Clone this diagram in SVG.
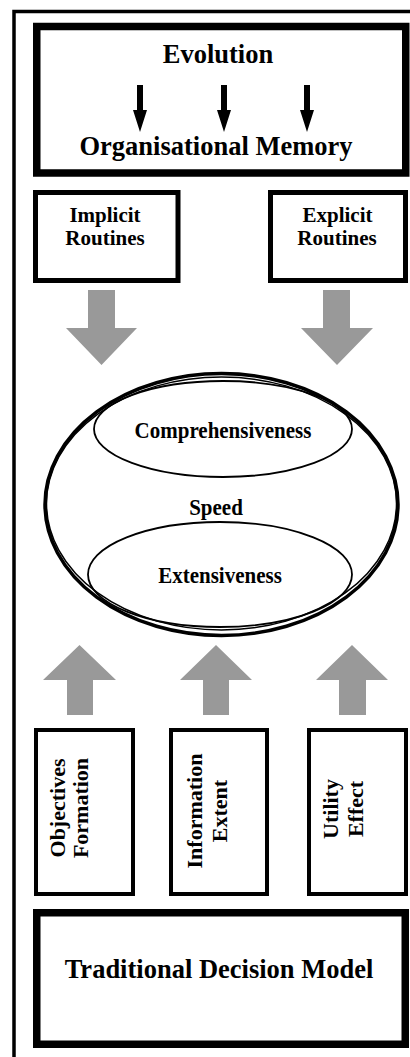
<svg xmlns="http://www.w3.org/2000/svg" width="410" height="1057" viewBox="0 0 410 1057">
<style>
  .t { font-family: "Liberation Serif", "Times New Roman", serif; font-weight: bold; fill: #000; text-anchor: middle; }
  .big { font-size: 26.5px; }
  .mid { font-size: 21px; }
  .rot { font-size: 22px; }
  .box { fill: #fff; stroke: #000; }
  .thick { stroke-width: 7.5; }
  .med { stroke-width: 5; }
  .thin { stroke-width: 4; }
  .grey { fill: #999999; stroke: none; }
  .blk { fill: #000; stroke: none; }
  .ell { fill: none; stroke: #000; }
</style>
<rect width="410" height="1057" fill="#fff"/>
<g id="frame">
  <rect x="14" y="11.5" width="420" height="1060" fill="none" stroke="#000" stroke-width="3.5"/>
</g>
<g id="evolution">
  <rect class="box thick" x="36.75" y="26.5" width="369" height="146.5"/>
  <text class="t big" x="218" y="62.5">Evolution</text>
  <text class="t big" x="216" y="155">Organisational Memory</text>
</g>
<g id="implicit">
  <rect class="box med" x="35.5" y="192.5" width="142.5" height="88"/>
  <text class="t mid" x="105" y="222">Implicit</text>
  <text class="t mid" x="105" y="245">Routines</text>
</g>
<g id="explicit">
  <rect class="box med" x="270.5" y="192.5" width="135" height="88"/>
  <text class="t mid" x="337.5" y="222">Explicit</text>
  <text class="t mid" x="337" y="245">Routines</text>
</g>
<g id="speed">
  <ellipse class="ell" cx="221.5" cy="504.5" rx="176.5" ry="131" stroke-width="3.5"/>
  <ellipse class="ell" cx="221.5" cy="503.5" rx="175" ry="126.5" stroke-width="1.5"/>
  <text class="t mid" transform="translate(216,515) scale(1,1.1)">Speed</text>
</g>
<g id="comprehensiveness">
  <ellipse class="ell" cx="223" cy="429" rx="129" ry="48" stroke-width="1.8"/>
  <text class="t mid" transform="translate(223,438) scale(1,1.1)">Comprehensiveness</text>
</g>
<g id="extensiveness">
  <ellipse class="ell" cx="220" cy="574.5" rx="132" ry="52.5" stroke-width="1.8"/>
  <text class="t mid" transform="translate(220,583) scale(1,1.1)">Extensiveness</text>
</g>
<g id="objectives">
  <rect class="box thin" x="36" y="730" width="97" height="164"/>
  <text class="t rot" transform="translate(65,808) rotate(-90)">Objectives</text>
  <text class="t rot" transform="translate(88,808) rotate(-90)">Formation</text>
</g>
<g id="information">
  <rect class="box thin" x="171" y="730" width="96" height="164"/>
  <text class="t rot" transform="translate(202,811) rotate(-90)">Information</text>
  <text class="t rot" transform="translate(227,811) rotate(-90)">Extent</text>
</g>
<g id="utility">
  <rect class="box thin" x="309" y="730" width="97" height="164"/>
  <text class="t rot" transform="translate(337.5,809) rotate(-90)">Utility</text>
  <text class="t rot" transform="translate(363,809) rotate(-90)">Effect</text>
</g>
<g id="traditional">
  <rect class="box thick" x="36.75" y="912.75" width="368.5" height="131.5"/>
  <text class="t big" x="219" y="978">Traditional Decision Model</text>
</g>
<g id="connectors">
  <polygon class="blk" points="137,85 143,85 143,110 147,110 140,132 133,110 137,110"/>
  <polygon class="blk" points="221,85 227,85 227,110 231,110 224,132 217,110 221,110"/>
  <polygon class="blk" points="304,85 310,85 310,110 314,110 307,132 300,110 304,110"/>
  <polygon class="grey" points="88,290 115,290 115,328 137,328 101.5,365 66,328 88,328"/>
  <polygon class="grey" points="323,290 350,290 350,328 373,328 337,365 301,328 323,328"/>
  <polygon class="grey" points="79.5,645 116,680 93,680 93,715 67,715 67,680 43,680"/>
  <polygon class="grey" points="216,645 252,680 229,680 229,715 203,715 203,680 180,680"/>
  <polygon class="grey" points="352,645 388,680 366,680 366,715 339,715 339,680 316,680"/>
</g>
</svg>
